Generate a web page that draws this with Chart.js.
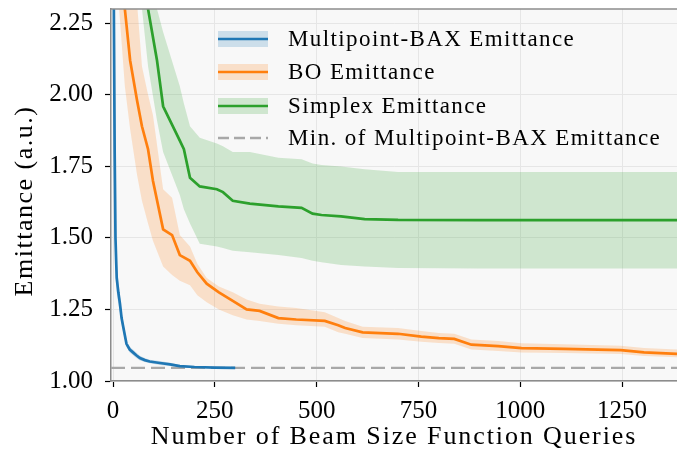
<!DOCTYPE html>
<html>
<head>
<meta charset="utf-8">
<script src="https://cdn.jsdelivr.net/npm/chart.js@4.4.1/dist/chart.umd.min.js"></script>
<style>
  html, body { margin: 0; padding: 0; background: #fff; }
</style>
</head>
<body>
<canvas id="chart" width="677" height="455"></canvas>
<script>
// axis limits
const xLimits = [-5, 1385];
const yLimits = [1.0, 2.30];

// Multipoint-BAX
const baxQ    = [0, 2, 4, 6, 9, 13, 17, 21, 25, 29, 33, 41, 49, 57, 66, 78, 90, 115, 140, 164, 200, 250, 300];
const baxMean = [2.90, 2.30, 1.80, 1.50, 1.36, 1.31, 1.27, 1.22, 1.19, 1.16, 1.13, 1.11, 1.10, 1.09, 1.08, 1.073, 1.068, 1.063, 1.058, 1.052, 1.049, 1.047, 1.046];
const baxLo   = [2.80, 2.20, 1.70, 1.42, 1.31, 1.27, 1.24, 1.20, 1.17, 1.145, 1.12, 1.10, 1.09, 1.08, 1.072, 1.066, 1.062, 1.056, 1.052, 1.048, 1.046, 1.045, 1.044];
const baxHi   = [3.00, 2.40, 1.90, 1.58, 1.42, 1.35, 1.30, 1.24, 1.21, 1.175, 1.14, 1.12, 1.11, 1.10, 1.088, 1.08, 1.074, 1.07, 1.064, 1.056, 1.052, 1.049, 1.048];

// BO
const boQ    = [0, 15, 29, 42, 59, 71, 86, 98, 123, 145, 164, 189, 207, 230, 260, 294, 328, 360, 406, 450, 520, 553, 570, 613, 700, 757, 800, 838, 880, 946, 1003, 1107, 1247, 1304, 1385];
const boMean = [3.2, 2.62, 2.30, 2.12, 1.98, 1.89, 1.81, 1.70, 1.53, 1.51, 1.44, 1.42, 1.38, 1.34, 1.31, 1.28, 1.25, 1.245, 1.22, 1.215, 1.21, 1.195, 1.185, 1.17, 1.165, 1.155, 1.15, 1.147, 1.127, 1.122, 1.115, 1.112, 1.108, 1.100, 1.095];
const boLo   = [2.9, 2.30, 2.03, 1.88, 1.72, 1.63, 1.55, 1.49, 1.40, 1.37, 1.35, 1.335, 1.30, 1.275, 1.25, 1.23, 1.215, 1.21, 1.20, 1.195, 1.19, 1.17, 1.165, 1.15, 1.145, 1.137, 1.133, 1.13, 1.11, 1.105, 1.10, 1.098, 1.094, 1.087, 1.083];
const boHi   = [3.5, 3.0, 2.75, 2.55, 2.32, 2.10, 2.00, 1.93, 1.67, 1.64, 1.51, 1.47, 1.41, 1.36, 1.33, 1.31, 1.285, 1.27, 1.26, 1.255, 1.24, 1.22, 1.21, 1.19, 1.185, 1.175, 1.168, 1.165, 1.145, 1.14, 1.132, 1.128, 1.123, 1.115, 1.11];

// Simplex
const simQ    = [0, 60, 86, 108, 123, 164, 174, 189, 213, 255, 270, 294, 336, 406, 463, 490, 512, 560, 618, 700, 900, 1100, 1385];
const simMean = [3.1, 2.6, 2.30, 2.12, 1.96, 1.84, 1.81, 1.71, 1.68, 1.67, 1.66, 1.63, 1.62, 1.61, 1.605, 1.585, 1.58, 1.575, 1.566, 1.563, 1.562, 1.562, 1.562];
const simLo   = [2.8, 2.45, 2.10, 1.91, 1.80, 1.65, 1.60, 1.55, 1.48, 1.47, 1.465, 1.455, 1.45, 1.44, 1.43, 1.42, 1.415, 1.405, 1.40, 1.395, 1.393, 1.393, 1.393];
const simHi   = [3.4, 2.9, 2.6, 2.30, 2.22, 2.03, 1.97, 1.89, 1.85, 1.83, 1.82, 1.80, 1.80, 1.78, 1.775, 1.76, 1.755, 1.75, 1.74, 1.73, 1.73, 1.73, 1.73];

const legendLabels = [
    "Multipoint-BAX Emittance",
    "BO Emittance",
    "Simplex Emittance",
    "Min. of Multipoint-BAX Emittance"
];
const xTitle = "Number of Beam Size Function Queries";
const yTitle = "Emittance (a.u.)";

const minBax = Math.min(...baxMean);

const serif = "'Liberation Serif', 'Times New Roman', serif";
const blue = "#1f77b4", orange = "#ff7f0e", green = "#2ca02c", grayDash = "#a8a8a8";

function pts(xs, ys) {
    return xs.map((x, i) => ({x: x, y: ys[i]}));
}

function bandSets(xs, hi, lo, fillColor) {
    return [
        {data: pts(xs, hi), fill: "+1", backgroundColor: fillColor, borderWidth: 0, pointRadius: 0, order: 5, clip: 0},
        {data: pts(xs, lo), fill: false, borderWidth: 0, pointRadius: 0, order: 5, clip: 0}
    ];
}

function lineSet(xs, ys, color) {
    return {data: pts(xs, ys), borderColor: color, borderWidth: 2.7, pointRadius: 0, fill: false, tension: 0, order: 1, clip: 0};
}

const plotFrame = {
    id: "plotFrame",
    beforeDraw(chart) {
        const {ctx, chartArea: a} = chart;
        ctx.save();
        ctx.fillStyle = "#f8f8f8";
        ctx.fillRect(a.left, a.top, a.right - a.left, a.bottom - a.top);
        ctx.restore();
    },
    afterDraw(chart) {
        const {ctx, chartArea: a} = chart;
        ctx.save();
        ctx.strokeStyle = "#8c8c8c";
        ctx.lineWidth = 1.5;
        ctx.beginPath();
        ctx.moveTo(a.left, a.top);
        ctx.lineTo(a.right, a.top);
        ctx.stroke();

        // axis titles (CM-like width via letter spacing)
        ctx.fillStyle = "#000";
        ctx.font = "26px " + serif;
        ctx.letterSpacing = "1.9px";
        ctx.textAlign = "center";
        ctx.textBaseline = "middle";
        ctx.fillText(xTitle, (a.left + a.right) / 2, 437);
        ctx.save();
        ctx.translate(25, 201);
        ctx.rotate(-Math.PI / 2);
        ctx.letterSpacing = "1.5px";
        ctx.fillText(yTitle, 0, 0);
        ctx.restore();

        // legend
        const handles = [
            {color: blue, fill: "rgba(31,119,180,0.2)"},
            {color: orange, fill: "rgba(255,127,14,0.2)"},
            {color: green, fill: "rgba(44,160,44,0.2)"},
            {color: grayDash, dash: [11, 5]}
        ];
        const rows = [39, 72, 106, 138];
        ctx.font = "23px " + serif;
        ctx.letterSpacing = "1.4px";
        ctx.textAlign = "left";
        handles.forEach((h, i) => {
            const y = rows[i];
            if (h.fill) {
                ctx.fillStyle = h.fill;
                ctx.fillRect(218, y - 8, 50, 16);
            }
            ctx.strokeStyle = h.color;
            ctx.lineWidth = 2.7;
            ctx.setLineDash(h.dash || []);
            ctx.beginPath();
            ctx.moveTo(218, y);
            ctx.lineTo(268, y);
            ctx.stroke();
            ctx.setLineDash([]);
            ctx.fillStyle = "#000";
            ctx.fillText(legendLabels[i], 288, y + 1);
        });
        ctx.restore();
    }
};

new Chart(document.getElementById("chart").getContext("2d"), {
    type: "line",
    data: {
        datasets: [
            ...bandSets(baxQ, baxHi, baxLo, "rgba(31,119,180,0.2)"),
            ...bandSets(boQ, boHi, boLo, "rgba(255,127,14,0.2)"),
            ...bandSets(simQ, simHi, simLo, "rgba(44,160,44,0.2)"),
            {data: pts(xLimits, [minBax, minBax]), borderColor: grayDash, borderWidth: 2.4, borderDash: [14, 6], pointRadius: 0, fill: false, order: 3, clip: 0},
            lineSet(baxQ, baxMean, blue),
            lineSet(boQ, boMean, orange),
            lineSet(simQ, simMean, green)
        ]
    },
    options: {
        responsive: false,
        animation: false,
        layout: {padding: {top: 9, right: 0, bottom: 0, left: 0}},
        plugins: {
            legend: {display: false},
            tooltip: {enabled: false}
        },
        scales: {
            x: {
                type: "linear",
                min: xLimits[0],
                max: xLimits[1],
                afterFit: s => { s.height = 74; s.paddingLeft = 0; s.paddingRight = 0; },
                ticks: {
                    stepSize: 250,
                    includeBounds: false,
                    autoSkip: false,
                    maxRotation: 0,
                    padding: 9,
                    color: "#000",
                    font: {family: serif, size: 25},
                    callback: v => String(v)
                },
                grid: {color: "#e6e6e6", tickColor: "#000", tickLength: 6, tickWidth: 1.2},
                border: {color: "#8c8c8c", width: 1.5}
            },
            y: {
                min: yLimits[0],
                max: yLimits[1],
                afterFit: s => { s.width = 111; s.paddingTop = 0; s.paddingBottom = 0; },
                ticks: {
                    stepSize: 0.25,
                    includeBounds: false,
                    padding: 12,
                    color: "#000",
                    font: {family: serif, size: 25},
                    callback: v => v.toFixed(2)
                },
                grid: {color: "#e6e6e6", tickColor: "#000", tickLength: 6, tickWidth: 1.2},
                border: {color: "#8c8c8c", width: 1.5}
            }
        }
    },
    plugins: [plotFrame]
});
</script>
</body>
</html>
